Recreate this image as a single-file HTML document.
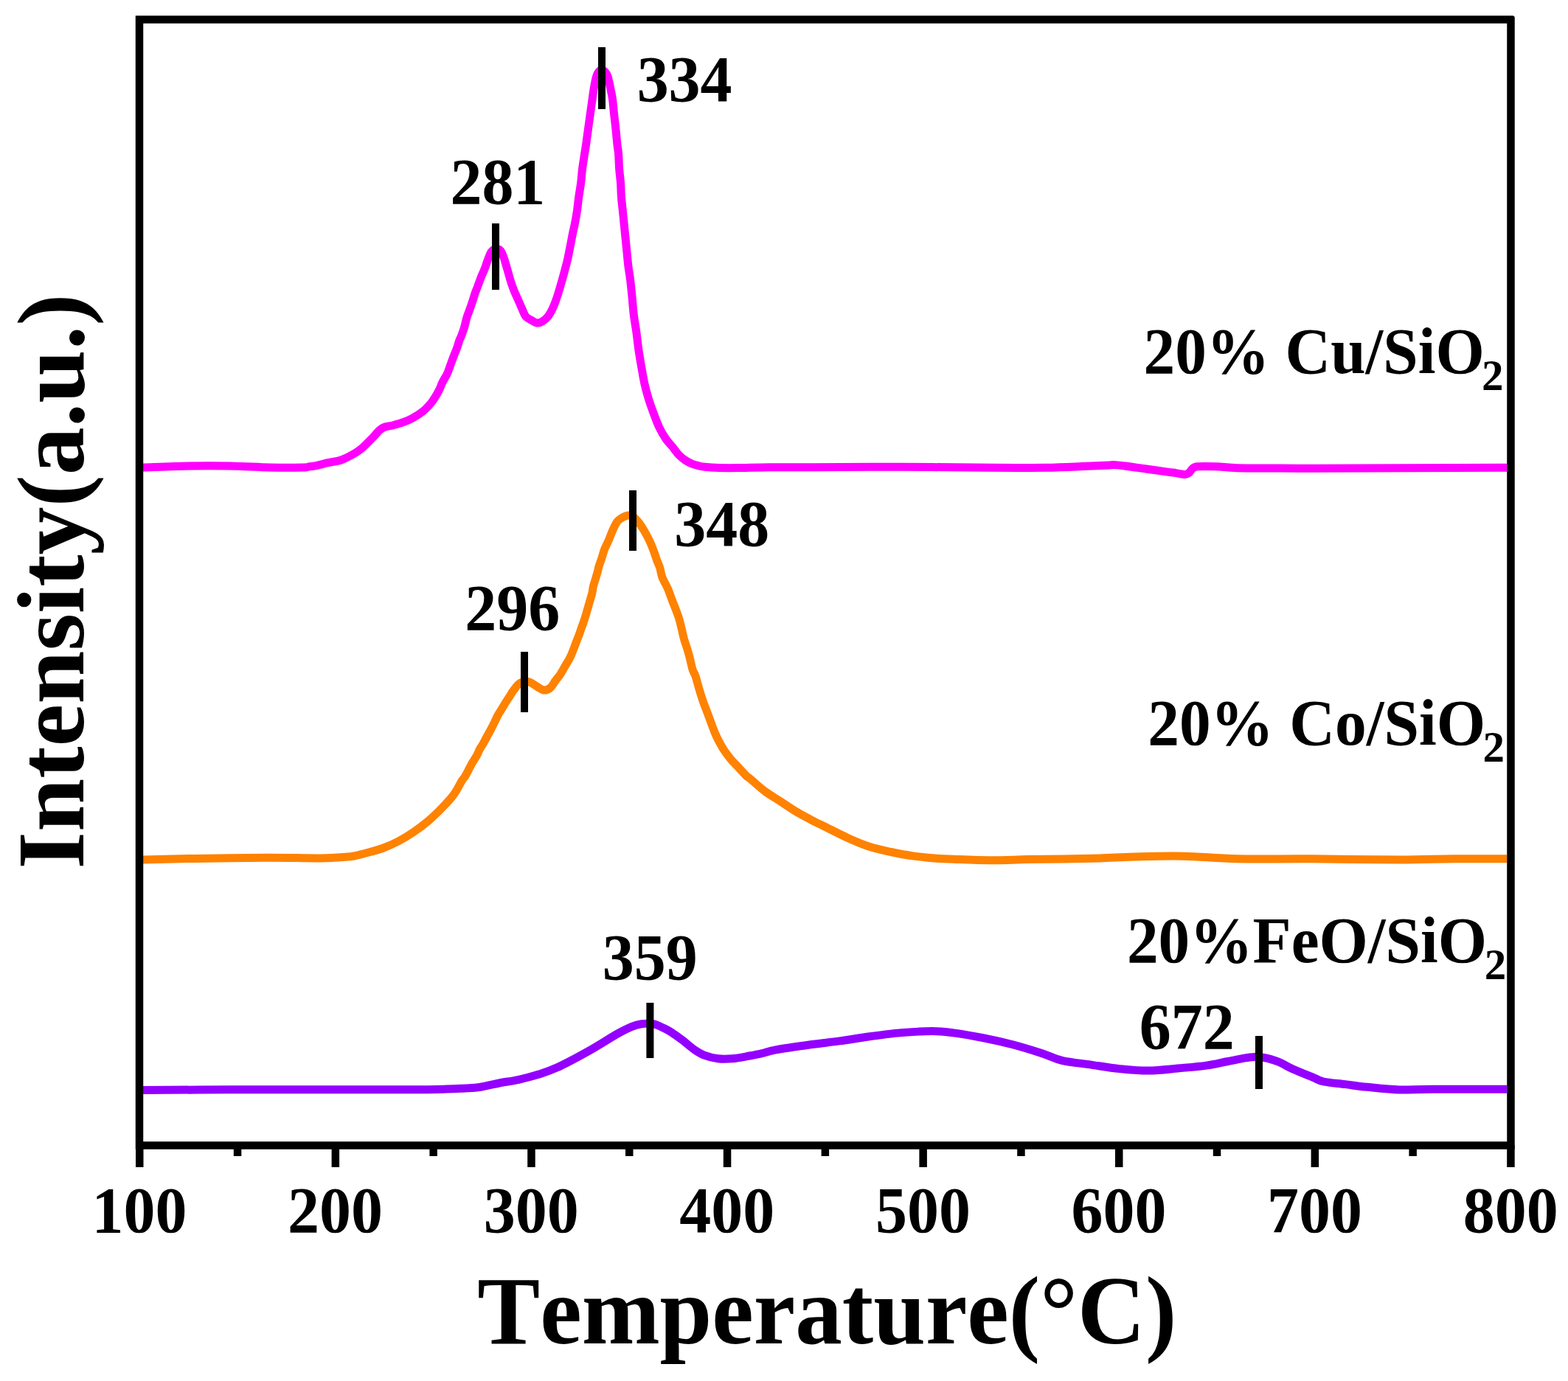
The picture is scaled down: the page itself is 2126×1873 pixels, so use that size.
<!DOCTYPE html>
<html><head><meta charset="utf-8"><title>TPR</title>
<style>html,body{margin:0;padding:0;background:#fff;overflow:hidden}svg{display:block}text{font-kerning:none}</style>
</head><body>
<svg width="2126" height="1873" viewBox="0 0 2126 1873"><rect width="2126" height="1873" fill="#fff"/><path d="M194.0,634.0 C204.3,633.7 236.3,632.3 256.0,632.0 C275.7,631.7 293.7,631.7 312.0,632.0 C330.3,632.3 349.7,633.7 366.0,634.0 C382.3,634.3 401.0,634.2 410.0,634.0 C419.0,633.8 417.2,633.0 420.0,632.6 C422.8,632.2 422.9,632.7 427.0,631.9 C431.1,631.1 438.7,629.0 444.6,627.7 C450.5,626.4 456.3,626.0 462.2,624.0 C468.1,622.0 475.2,618.1 479.8,615.5 C484.4,612.9 487.1,610.8 490.0,608.5 C492.9,606.2 495.6,603.2 497.4,601.5 C499.2,599.8 499.2,599.8 501.0,598.0 C502.8,596.2 505.7,593.2 508.0,590.7 C510.3,588.2 512.5,585.2 514.7,583.3 C516.9,581.4 518.2,580.4 521.3,579.3 C524.4,578.2 529.1,577.8 533.3,576.7 C537.5,575.6 542.2,574.4 546.7,572.7 C551.2,571.0 555.6,569.2 560.0,566.7 C564.4,564.2 569.4,561.1 573.3,558.0 C577.2,554.9 580.5,551.2 583.3,548.0 C586.1,544.8 587.9,542.0 590.0,538.7 C592.1,535.4 594.2,531.4 595.9,528.0 C597.6,524.6 598.2,521.8 600.0,518.3 C601.8,514.8 604.6,510.6 606.4,506.7 C608.2,502.8 609.3,498.9 610.8,495.0 C612.2,491.1 613.6,487.2 615.1,483.3 C616.6,479.4 618.4,475.3 619.7,471.7 C621.0,468.1 621.8,464.8 622.8,461.9 C623.8,459.0 624.8,457.6 626.0,454.4 C627.2,451.2 628.8,446.7 629.9,442.8 C631.0,438.9 631.6,435.0 632.8,431.1 C634.0,427.2 635.6,423.3 637.0,419.4 C638.4,415.5 639.8,411.4 641.0,407.8 C642.2,404.2 642.9,401.2 644.0,398.0 C645.1,394.8 646.4,391.9 647.7,388.3 C649.0,384.8 650.5,380.6 652.0,376.7 C653.5,372.8 655.5,368.9 657.0,365.0 C658.5,361.1 659.6,357.2 661.1,353.3 C662.6,349.4 664.4,344.3 666.0,341.7 C667.6,339.1 669.1,338.5 670.5,337.8 C671.9,337.1 673.1,337.1 674.5,337.5 C675.9,337.9 677.2,337.9 678.7,340.0 C680.2,342.1 681.9,346.1 683.3,350.0 C684.7,353.9 685.8,358.3 687.3,363.3 C688.8,368.3 690.5,375.0 692.0,380.0 C693.5,385.0 694.9,388.9 696.6,393.3 C698.4,397.7 700.7,402.5 702.5,406.6 C704.3,410.7 705.8,414.2 707.5,418.0 C709.2,421.8 710.7,426.5 712.8,429.2 C714.9,431.9 717.5,432.5 720.0,434.0 C722.5,435.5 725.5,437.7 728.0,438.0 C730.5,438.3 732.8,437.5 735.3,436.0 C737.8,434.5 740.7,432.0 743.0,429.2 C745.3,426.4 747.3,422.4 749.0,419.0 C750.7,415.6 752.0,412.3 753.3,408.7 C754.6,405.1 755.7,401.8 757.0,397.5 C758.3,393.2 759.7,388.3 761.2,383.2 C762.7,378.1 764.3,372.2 765.8,366.6 C767.3,361.1 768.8,355.4 770.0,349.9 C771.2,344.3 772.2,338.9 773.3,333.3 C774.4,327.8 775.5,321.7 776.5,316.6 C777.5,311.6 778.5,308.2 779.5,303.0 C780.5,297.8 781.6,291.6 782.5,285.5 C783.4,279.4 783.9,273.0 784.8,266.7 C785.7,260.4 786.9,254.1 787.7,247.8 C788.5,241.5 788.8,235.2 789.6,228.9 C790.4,222.6 791.6,215.4 792.4,210.0 C793.2,204.6 793.6,202.7 794.5,196.6 C795.4,190.5 796.7,180.4 797.7,173.3 C798.7,166.2 799.5,160.4 800.4,153.9 C801.3,147.4 802.3,140.2 803.1,134.4 C803.9,128.6 804.5,124.0 805.4,118.9 C806.3,113.8 807.4,107.7 808.5,104.0 C809.6,100.3 810.8,98.5 812.0,97.0 C813.2,95.5 814.6,94.9 816.0,95.0 C817.4,95.1 819.1,96.0 820.5,97.5 C821.9,99.0 822.9,100.4 824.1,104.0 C825.3,107.6 826.4,113.8 827.5,118.9 C828.6,124.0 829.7,128.6 830.5,134.4 C831.3,140.2 831.8,147.4 832.5,153.9 C833.2,160.4 834.0,166.2 834.7,173.3 C835.5,180.4 836.3,190.5 837.0,196.6 C837.7,202.7 838.3,204.6 838.7,210.0 C839.1,215.4 839.1,222.6 839.6,228.9 C840.1,235.2 841.0,241.5 841.5,247.8 C842.0,254.1 841.9,260.4 842.4,266.7 C842.9,273.0 843.7,279.2 844.3,285.5 C844.9,291.8 845.6,298.1 846.2,304.4 C846.8,310.7 847.5,317.0 848.1,323.3 C848.7,329.6 849.4,335.9 850.0,342.2 C850.6,348.5 851.2,355.1 851.9,361.1 C852.6,367.1 853.5,371.0 854.4,378.0 C855.3,385.0 856.3,395.2 857.1,403.3 C857.9,411.4 858.3,418.9 859.3,426.7 C860.2,434.5 861.7,442.2 862.8,450.0 C863.9,457.8 864.6,465.5 865.7,473.3 C866.8,481.1 868.1,488.8 869.5,496.6 C870.9,504.4 872.2,512.8 873.8,520.0 C875.4,527.2 877.1,533.3 879.1,540.0 C881.1,546.7 883.5,553.3 886.0,560.0 C888.5,566.7 891.2,574.1 894.0,580.0 C896.8,585.9 900.0,591.2 903.0,595.5 C906.0,599.8 908.8,602.3 911.7,605.9 C914.6,609.5 917.5,613.9 920.5,617.0 C923.5,620.1 926.4,622.4 929.4,624.4 C932.4,626.4 935.3,627.8 938.2,629.0 C941.1,630.2 944.1,631.0 947.0,631.7 C949.9,632.4 951.1,632.8 955.8,633.3 C960.5,633.8 967.6,634.3 975.0,634.5 C982.4,634.7 988.6,634.7 1000.0,634.6 C1011.4,634.5 1026.8,633.8 1043.5,633.7 C1060.2,633.6 1070.2,633.9 1100.0,633.8 C1129.8,633.7 1181.2,633.2 1222.0,633.3 C1262.8,633.4 1311.9,634.1 1344.6,634.3 C1377.3,634.5 1397.6,634.6 1418.0,634.3 C1438.4,634.0 1452.7,633.2 1467.0,632.6 C1481.3,632.0 1495.5,631.2 1503.6,630.9 C1511.7,630.6 1507.6,630.1 1515.8,630.9 C1524.0,631.7 1541.8,634.3 1552.5,635.8 C1563.2,637.2 1573.0,638.6 1580.0,639.6 C1587.0,640.6 1590.3,641.0 1594.7,641.6 C1599.1,642.2 1603.5,643.6 1606.4,643.5 C1609.3,643.4 1610.5,642.5 1612.3,641.1 C1614.1,639.7 1615.2,636.6 1617.2,635.2 C1619.2,633.8 1618.8,633.2 1624.0,632.8 C1629.2,632.4 1639.5,632.5 1648.5,632.8 C1657.5,633.1 1664.8,634.3 1677.8,634.7 C1690.8,635.1 1709.8,634.9 1726.8,635.0 C1743.8,635.1 1727.3,635.3 1780.0,635.2 C1832.7,635.1 1999.2,634.4 2043.0,634.3" fill="none" stroke="#FF00FF" stroke-width="11" stroke-linejoin="round" stroke-linecap="butt"/><path d="M194.0,1166.1 C205.6,1165.8 235.5,1164.9 263.4,1164.4 C291.3,1163.9 332.7,1163.3 361.2,1163.2 C389.7,1163.1 416.2,1164.1 434.6,1163.9 C453.0,1163.7 463.7,1162.5 471.3,1162.0 C478.9,1161.5 475.2,1162.0 480.0,1161.0 C484.8,1160.0 493.3,1157.8 500.0,1156.0 C506.7,1154.2 513.3,1152.5 520.0,1150.0 C526.7,1147.5 533.3,1144.5 540.0,1141.0 C546.7,1137.5 553.3,1133.5 560.0,1129.0 C566.7,1124.5 573.3,1119.7 580.0,1114.0 C586.7,1108.3 594.2,1101.0 600.0,1095.0 C605.8,1089.0 610.6,1084.1 615.0,1078.0 C619.4,1071.9 624.0,1062.5 626.5,1058.5 C629.0,1054.5 628.5,1056.3 630.0,1053.9 C631.5,1051.5 633.6,1047.5 635.3,1044.2 C637.0,1041.0 638.5,1037.7 640.4,1034.4 C642.3,1031.2 644.9,1027.7 646.5,1024.7 C648.1,1021.7 649.0,1018.9 650.3,1016.4 C651.6,1013.9 652.7,1012.7 654.3,1010.0 C655.9,1007.3 657.9,1003.3 659.7,1000.0 C661.5,996.7 663.4,993.3 665.2,990.0 C667.0,986.7 668.6,983.3 670.3,980.0 C671.9,976.7 673.4,973.1 675.1,970.0 C676.8,966.9 678.4,964.7 680.3,961.6 C682.2,958.5 684.2,954.9 686.3,951.6 C688.4,948.3 691.3,944.0 692.8,941.6 C694.3,939.2 693.9,939.5 695.5,937.3 C697.1,935.1 700.4,930.5 702.6,928.4 C704.8,926.3 706.3,925.5 708.8,924.9 C711.3,924.3 714.7,924.0 717.7,924.9 C720.7,925.8 723.3,928.4 726.6,930.2 C729.9,932.1 734.0,935.5 737.3,936.0 C740.5,936.5 743.5,935.0 746.1,932.9 C748.8,930.8 750.9,926.2 753.2,923.1 C755.5,920.0 757.7,917.7 760.0,914.2 C762.3,910.7 764.7,906.0 767.0,902.0 C769.3,898.0 771.2,895.7 773.8,890.0 C776.4,884.3 780.5,872.8 782.5,867.8 C784.5,862.8 784.4,863.0 785.5,860.0 C786.6,857.0 787.8,853.3 789.0,850.0 C790.2,846.7 791.4,843.3 792.5,840.0 C793.6,836.7 794.3,834.2 795.5,830.0 C796.7,825.8 798.6,819.2 799.8,815.0 C801.0,810.8 801.9,808.3 802.7,805.0 C803.5,801.7 803.7,798.3 804.5,795.0 C805.3,791.7 806.5,788.3 807.5,785.0 C808.5,781.7 809.6,777.9 810.4,775.0 C811.2,772.1 811.2,770.8 812.1,767.9 C813.0,765.0 814.5,761.2 815.8,757.4 C817.0,753.6 818.0,749.1 819.6,745.0 C821.2,740.9 823.6,736.7 825.4,732.5 C827.2,728.3 828.5,724.2 830.4,720.0 C832.3,715.8 834.7,710.4 836.8,707.5 C838.9,704.6 841.1,703.8 843.0,702.5 C844.9,701.2 846.3,700.6 848.0,700.0 C849.7,699.4 851.3,698.9 853.0,699.0 C854.7,699.1 855.7,698.8 858.0,700.5 C860.3,702.2 864.1,706.2 866.7,709.5 C869.3,712.8 871.5,716.6 873.5,720.0 C875.5,723.4 877.3,726.7 879.0,730.0 C880.7,733.3 882.1,736.7 883.5,740.0 C884.9,743.3 886.1,746.7 887.3,750.0 C888.5,753.3 889.5,756.7 890.7,760.0 C891.9,763.3 893.5,766.1 894.7,770.0 C895.9,773.9 896.2,778.6 898.0,783.3 C899.8,788.0 903.1,793.0 905.3,798.0 C907.5,803.0 909.2,808.5 911.0,813.3 C912.8,818.1 914.6,822.2 916.3,826.7 C918.0,831.2 919.7,835.6 921.0,840.0 C922.3,844.4 923.2,848.8 924.3,853.3 C925.4,857.8 926.2,862.2 927.5,866.7 C928.8,871.2 930.5,875.6 931.8,880.0 C933.1,884.4 934.3,888.6 935.5,893.3 C936.7,898.0 937.8,904.0 939.0,908.0 C940.2,912.0 941.6,912.8 943.0,917.0 C944.4,921.2 946.0,927.8 947.6,933.3 C949.2,938.8 950.9,944.3 952.8,949.9 C954.7,955.5 957.0,961.0 959.1,966.6 C961.2,972.2 963.4,978.4 965.2,983.2 C967.0,988.0 968.4,991.8 970.0,995.5 C971.6,999.2 972.9,1001.9 974.8,1005.5 C976.7,1009.1 979.0,1013.3 981.6,1017.2 C984.2,1021.1 987.1,1025.0 990.3,1028.9 C993.5,1032.8 997.4,1036.6 1001.0,1040.5 C1004.6,1044.4 1009.1,1049.5 1011.9,1052.2 C1014.7,1054.9 1013.5,1053.2 1017.8,1056.8 C1022.1,1060.4 1031.1,1068.8 1037.9,1073.8 C1044.7,1078.8 1051.7,1082.6 1058.5,1087.1 C1065.3,1091.5 1072.2,1096.4 1079.0,1100.5 C1085.8,1104.6 1092.8,1108.2 1099.6,1111.8 C1106.4,1115.4 1111.8,1117.9 1120.1,1122.0 C1128.4,1126.1 1139.6,1132.0 1149.4,1136.4 C1159.2,1140.8 1168.9,1145.0 1178.7,1148.2 C1188.5,1151.4 1198.3,1153.4 1208.1,1155.5 C1217.9,1157.6 1227.6,1159.5 1237.4,1160.9 C1247.2,1162.3 1257.0,1163.2 1266.8,1164.0 C1276.6,1164.8 1283.1,1165.0 1296.1,1165.5 C1309.1,1166.0 1328.4,1166.8 1344.6,1166.8 C1360.8,1166.8 1377.2,1165.9 1393.5,1165.6 C1409.8,1165.3 1426.2,1165.4 1442.5,1165.1 C1458.8,1164.8 1475.1,1164.4 1491.4,1163.9 C1507.7,1163.4 1521.5,1162.5 1540.3,1162.0 C1559.1,1161.5 1581.6,1160.7 1604.5,1161.2 C1627.4,1161.7 1649.3,1164.2 1677.8,1164.8 C1706.3,1165.4 1739.0,1164.6 1775.7,1164.8 C1812.4,1165.0 1865.4,1166.0 1898.0,1166.0 C1930.6,1166.0 1947.2,1165.0 1971.4,1164.8 C1995.6,1164.6 2031.1,1164.8 2043.0,1164.8" fill="none" stroke="#FF8200" stroke-width="11" stroke-linejoin="round" stroke-linecap="butt"/><path d="M194.0,1478.6 C213.7,1478.5 272.2,1477.9 312.3,1477.8 C352.4,1477.7 393.8,1477.8 434.6,1477.8 C475.4,1477.8 528.4,1477.9 556.9,1477.8 C585.4,1477.7 593.7,1477.4 605.9,1477.1 C618.1,1476.8 622.9,1476.3 630.3,1475.9 C637.7,1475.5 642.6,1475.7 650.4,1474.5 C658.1,1473.3 668.0,1470.7 676.8,1469.0 C685.6,1467.3 694.4,1466.2 703.2,1464.3 C712.0,1462.3 720.8,1460.1 729.6,1457.3 C738.4,1454.5 744.7,1452.8 756.0,1447.6 C767.3,1442.4 784.0,1433.4 797.4,1425.9 C810.8,1418.4 826.8,1408.0 836.6,1402.4 C846.4,1396.9 850.6,1394.9 856.1,1392.6 C861.6,1390.3 864.9,1389.3 869.8,1388.7 C874.7,1388.1 880.6,1387.8 885.5,1388.7 C890.4,1389.6 895.2,1392.2 899.2,1394.0 C903.2,1395.8 905.3,1396.9 909.6,1399.7 C913.9,1402.5 920.0,1406.8 925.2,1410.7 C930.4,1414.6 936.1,1419.9 940.9,1423.2 C945.7,1426.5 948.6,1428.7 954.0,1430.8 C959.4,1432.9 967.0,1434.9 973.5,1435.7 C980.0,1436.5 986.6,1436.2 993.1,1435.7 C999.6,1435.2 1006.2,1433.9 1012.7,1432.7 C1019.2,1431.5 1025.7,1430.3 1032.2,1428.8 C1038.7,1427.3 1040.7,1425.9 1051.8,1423.9 C1062.9,1421.9 1084.7,1418.8 1099.1,1416.8 C1113.5,1414.8 1125.2,1413.7 1138.3,1411.9 C1151.3,1410.1 1164.4,1407.8 1177.4,1406.0 C1190.5,1404.2 1205.2,1402.2 1216.6,1401.1 C1228.0,1399.9 1237.1,1399.5 1245.9,1399.1 C1254.7,1398.7 1261.2,1398.4 1269.4,1398.7 C1277.6,1399.0 1284.0,1399.6 1294.8,1401.1 C1305.6,1402.6 1321.0,1405.3 1334.0,1407.9 C1347.0,1410.5 1360.0,1413.4 1373.1,1416.8 C1386.1,1420.2 1401.1,1424.9 1412.3,1428.5 C1423.5,1432.1 1428.9,1435.7 1440.0,1438.3 C1451.1,1440.9 1466.0,1442.2 1479.1,1444.1 C1492.1,1446.0 1505.2,1448.3 1518.3,1449.6 C1531.3,1450.9 1544.4,1452.1 1557.4,1452.0 C1570.5,1451.9 1583.5,1450.2 1596.6,1449.0 C1609.6,1447.8 1624.3,1446.7 1635.7,1445.1 C1647.1,1443.5 1655.2,1441.3 1665.0,1439.5 C1674.8,1437.7 1686.2,1434.8 1694.4,1434.0 C1702.6,1433.2 1707.5,1433.5 1714.0,1434.5 C1720.5,1435.5 1727.0,1437.6 1733.5,1440.2 C1740.0,1442.8 1745.3,1446.5 1753.1,1450.0 C1760.8,1453.5 1773.1,1458.3 1780.0,1461.1 C1786.9,1463.9 1787.4,1465.4 1794.7,1467.0 C1802.0,1468.6 1814.2,1469.4 1824.0,1470.6 C1833.8,1471.8 1841.2,1473.1 1853.4,1474.3 C1865.6,1475.5 1882.7,1477.5 1897.4,1478.0 C1912.1,1478.5 1917.2,1477.3 1941.5,1477.2 C1965.8,1477.1 2026.1,1477.2 2043.0,1477.2" fill="none" stroke="#9400FF" stroke-width="11" stroke-linejoin="round" stroke-linecap="butt"/><rect x="667.0" y="303" width="10" height="90" fill="#000"/><rect x="811.0" y="64" width="10" height="84" fill="#000"/><rect x="706.0" y="884" width="10" height="82" fill="#000"/><rect x="853.0" y="665" width="10" height="82" fill="#000"/><rect x="876.4" y="1360" width="10" height="75" fill="#000"/><rect x="1702.0" y="1405" width="10" height="72" fill="#000"/><rect x="189" y="26.5" width="1859.5" height="1527" fill="none" stroke="#000" stroke-width="10.5"/><path d="M2054.6,20.4 L2049.2,20.4 A5.4,5.4 0 0 1 2054.6,25.8 Z" fill="#fff"/><rect x="184.0" y="1553" width="10.5" height="30" fill="#000"/><rect x="316.8" y="1553" width="10.5" height="15" fill="#000"/><rect x="449.6" y="1553" width="10.5" height="30" fill="#000"/><rect x="582.4" y="1553" width="10.5" height="15" fill="#000"/><rect x="715.2" y="1553" width="10.5" height="30" fill="#000"/><rect x="848.0" y="1553" width="10.5" height="15" fill="#000"/><rect x="980.8" y="1553" width="10.5" height="30" fill="#000"/><rect x="1113.6" y="1553" width="10.5" height="15" fill="#000"/><rect x="1246.4" y="1553" width="10.5" height="30" fill="#000"/><rect x="1379.2" y="1553" width="10.5" height="15" fill="#000"/><rect x="1512.0" y="1553" width="10.5" height="30" fill="#000"/><rect x="1644.8" y="1553" width="10.5" height="15" fill="#000"/><rect x="1777.6" y="1553" width="10.5" height="30" fill="#000"/><rect x="1910.4" y="1553" width="10.5" height="15" fill="#000"/><rect x="2043.2" y="1553" width="10.5" height="30" fill="#000"/><g font-family="'Liberation Serif','Times New Roman',serif" font-weight="bold" fill="#000"><text x="0" y="0" transform="translate(189.00,1671.10) scale(1.0,1.035)" font-size="86.0" text-anchor="middle" >100</text><text x="0" y="0" transform="translate(454.60,1671.10) scale(1.0,1.035)" font-size="86.0" text-anchor="middle" >200</text><text x="0" y="0" transform="translate(720.20,1671.10) scale(1.0,1.035)" font-size="86.0" text-anchor="middle" >300</text><text x="0" y="0" transform="translate(985.80,1671.10) scale(1.0,1.035)" font-size="86.0" text-anchor="middle" >400</text><text x="0" y="0" transform="translate(1251.40,1671.10) scale(1.0,1.035)" font-size="86.0" text-anchor="middle" >500</text><text x="0" y="0" transform="translate(1517.00,1671.10) scale(1.0,1.035)" font-size="86.0" text-anchor="middle" >600</text><text x="0" y="0" transform="translate(1782.60,1671.10) scale(1.0,1.035)" font-size="86.0" text-anchor="middle" >700</text><text x="0" y="0" transform="translate(2048.20,1671.10) scale(1.0,1.035)" font-size="86.0" text-anchor="middle" >800</text><text x="0" y="0" transform="translate(610.39,276.00) scale(1.0,1.035)" font-size="86.0" text-anchor="start" >281</text><text x="0" y="0" transform="translate(863.63,136.90) scale(1.0,1.035)" font-size="86.0" text-anchor="start" >334</text><text x="0" y="0" transform="translate(630.19,854.10) scale(1.0,1.035)" font-size="86.0" text-anchor="start" >296</text><text x="0" y="0" transform="translate(914.33,739.80) scale(1.0,1.035)" font-size="86.0" text-anchor="start" >348</text><text x="0" y="0" transform="translate(816.73,1328.20) scale(1.0,1.035)" font-size="86.0" text-anchor="start" >359</text><text x="0" y="0" transform="translate(1544.68,1422.20) scale(1.0,1.035)" font-size="86.0" text-anchor="start" >672</text><text x="0" y="0" transform="translate(1550.62,505.90) scale(0.992,1.035)" font-size="86.0" text-anchor="start" >20% Cu/SiO</text><text x="0" y="0" transform="translate(2009.02,528.76) scale(1.0,1.0)" font-size="59" text-anchor="start" >2</text><text x="0" y="0" transform="translate(1556.21,1010.00) scale(0.993,1.035)" font-size="86.0" text-anchor="start" >20% Co/SiO</text><text x="0" y="0" transform="translate(2010.52,1032.86) scale(1.0,1.0)" font-size="59" text-anchor="start" >2</text><text x="0" y="0" transform="translate(1527.92,1305.00) scale(0.992,1.035)" font-size="86.0" text-anchor="start" >20%FeO/SiO</text><text x="0" y="0" transform="translate(2012.72,1327.86) scale(1.0,1.0)" font-size="59" text-anchor="start" >2</text><text x="0" y="0" transform="translate(647.36,1821.90) scale(0.9822,1.01)" font-size="129.5" text-anchor="start" >Temperature(°C)</text><text x="0" y="0" transform="translate(113.3,1178.72) rotate(-90) scale(1.004,0.9999)" font-size="129.5">Intensity(a.u.)</text></g></svg>
</body></html>
